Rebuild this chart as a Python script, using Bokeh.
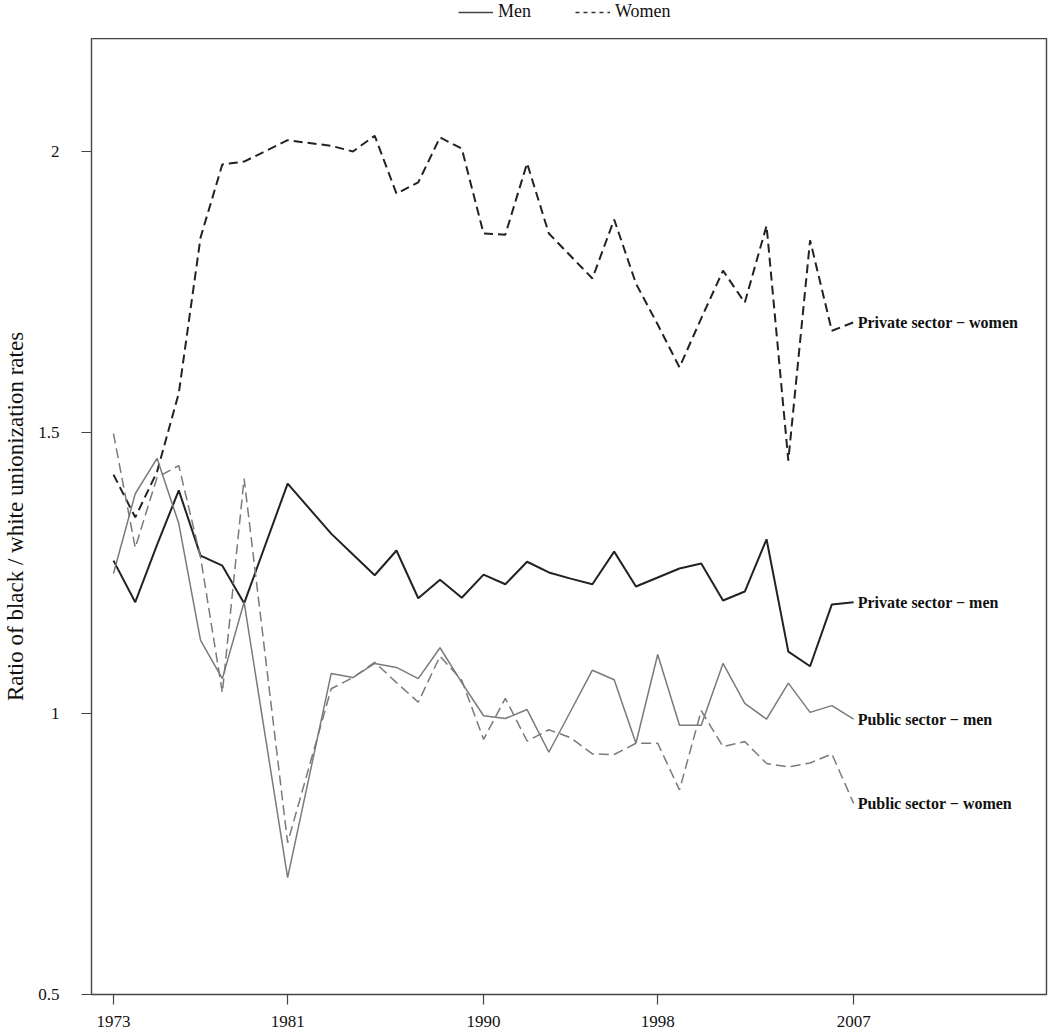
from bokeh.plotting import figure
from bokeh.layouts import column
from bokeh.models import FixedTicker, Legend, LegendItem
from bokeh.core.properties import value
from bokeh.embed import file_html
from bokeh.resources import INLINE

# ---- data ----
years = [1973, 1974, 1975, 1976, 1977, 1978, 1979, 1981, 1983, 1984, 1985,
         1986, 1987, 1988, 1989, 1990, 1991, 1992, 1993, 1994, 1995, 1996,
         1997, 1998, 1999, 2000, 2001, 2002, 2003, 2004, 2005, 2006, 2007]

private_men = [1.272, 1.198, 1.300, 1.397, 1.281, 1.263, 1.196, 1.409, 1.320, 1.283, 1.246,
               1.290, 1.205, 1.238, 1.206, 1.247, 1.230, 1.270, 1.251, 1.240, 1.230, 1.288,
               1.226, 1.242, 1.258, 1.267, 1.201, 1.217, 1.310, 1.110, 1.084, 1.194, 1.198]

private_women = [1.425, 1.349, 1.430, 1.570, 1.847, 1.977, 1.982, 2.020, 2.010, 2.000, 2.028,
                 1.925, 1.945, 2.025, 2.005, 1.854, 1.852, 1.979, 1.854, 1.814, 1.774, 1.879,
                 1.765, 1.692, 1.616, 1.703, 1.788, 1.731, 1.868, 1.450, 1.842, 1.681, 1.696]

public_men = [1.249, 1.391, 1.454, 1.338, 1.130, 1.062, 1.198, 0.708, 1.071, 1.064, 1.089,
              1.082, 1.062, 1.117, 1.055, 0.996, 0.991, 1.007, 0.931, 1.004, 1.077, 1.060,
              0.947, 1.105, 0.979, 0.979, 1.089, 1.018, 0.990, 1.054, 1.002, 1.014, 0.990]

public_women = [1.498, 1.295, 1.420, 1.441, 1.278, 1.037, 1.418, 0.770, 1.044, 1.064, 1.091,
                1.055, 1.020, 1.102, 1.059, 0.954, 1.027, 0.951, 0.971, 0.957, 0.928, 0.927,
                0.947, 0.947, 0.864, 1.005, 0.941, 0.950, 0.911, 0.905, 0.912, 0.928, 0.840]

series_labels = ["Private sector \u2212 women", "Private sector \u2212 men",
                 "Public sector \u2212 men", "Public sector \u2212 women"]
legend_labels = ["Men", "Women"]
x_ticks = [1973, 1981, 1990, 1998, 2007]
y_ticks = [0.5, 1, 1.5, 2]
y_tick_labels = ["0.5", "1", "1.5", "2"]
y_title = "Ratio of black / white unionization rates"

SERIF = "Liberation Serif"
DARK = "#222222"
GRAY = "#7a7a7a"

# ---------------- legend strip ----------------
# its ranges keep the series out of view; the renderers only feed the legend swatches
lg = figure(width=1050, height=38, x_range=(0, 1), y_range=(0, 1),
            output_backend="svg", toolbar_location=None,
            x_axis_location=None, y_axis_location=None,
            min_border_left=0, min_border_right=0, min_border_top=0, min_border_bottom=0)
lg.outline_line_color = None
lg.xgrid.visible = False
lg.ygrid.visible = False
lg_men = lg.line(years, public_men, line_color="#444444", line_width=1.5)
lg_women = lg.line(years, private_women, line_color="#333333", line_width=1.5, line_dash="4 4")
legend = Legend(items=[LegendItem(label=legend_labels[0], renderers=[lg_men]),
                       LegendItem(label=legend_labels[1], renderers=[lg_women])],
                orientation="horizontal", location=(367, 16),
                label_text_font=SERIF, label_text_font_size="18px",
                label_text_color="#111111", label_height=20,
                glyph_width=35, glyph_height=20, label_standoff=5, spacing=44,
                padding=0, margin=0,
                border_line_alpha=0, background_fill_alpha=0)
lg.add_layout(legend, "center")

# ---------------- main plot ----------------
p = figure(width=1050, height=998,
           x_range=(1971.99, 2015.86), y_range=(0.5, 2.201),
           output_backend="svg", toolbar_location=None,
           min_border_left=91, min_border_right=4,
           min_border_top=0, min_border_bottom=42)

p.background_fill_color = "white"
p.border_fill_color = "white"
p.outline_line_color = "#444444"
p.outline_line_width = 1.4
p.xgrid.visible = False
p.ygrid.visible = False

r_pm = p.line(years, private_men, line_color=DARK, line_width=2)
r_pw = p.line(years, private_women, line_color=DARK, line_width=2, line_dash="9 5")
r_gm = p.line(years, public_men, line_color=GRAY, line_width=1.5)
r_gw = p.line(years, public_women, line_color=GRAY, line_width=1.5, line_dash="10 5")

p.text(x=[years[-1]] * 4,
       y=[private_women[-1], private_men[-1], public_men[-1], public_women[-1]],
       text=series_labels, x_offset=4, text_baseline="middle", text_align="left",
       text_font=value(SERIF), text_font_style="bold", text_font_size="16px",
       text_color="#111111")

for ax in (p.xaxis[0], p.yaxis[0]):
    ax.axis_line_color = None
    ax.major_tick_line_color = "#444444"
    ax.major_tick_line_width = 1.2
    ax.major_tick_out = 10
    ax.major_tick_in = 0
    ax.minor_tick_line_color = None
    ax.major_label_text_font = SERIF
    ax.major_label_text_font_size = "17px"
    ax.major_label_text_color = "#111111"

p.xaxis[0].ticker = FixedTicker(ticks=x_ticks)
p.xaxis[0].major_label_standoff = 11
p.yaxis[0].ticker = FixedTicker(ticks=y_ticks)
p.yaxis[0].major_label_overrides = {t: s for t, s in zip(y_ticks, y_tick_labels)}
p.yaxis[0].major_label_standoff = 22
p.yaxis[0].axis_label = y_title
p.yaxis[0].axis_label_text_font = SERIF
p.yaxis[0].axis_label_text_font_style = "normal"
p.yaxis[0].axis_label_text_font_size = "23px"
p.yaxis[0].axis_label_text_color = "#111111"
p.yaxis[0].axis_label_standoff = 7

layout = column(lg, p, spacing=0)
open("out.html", "w").write(file_html(layout, INLINE))
